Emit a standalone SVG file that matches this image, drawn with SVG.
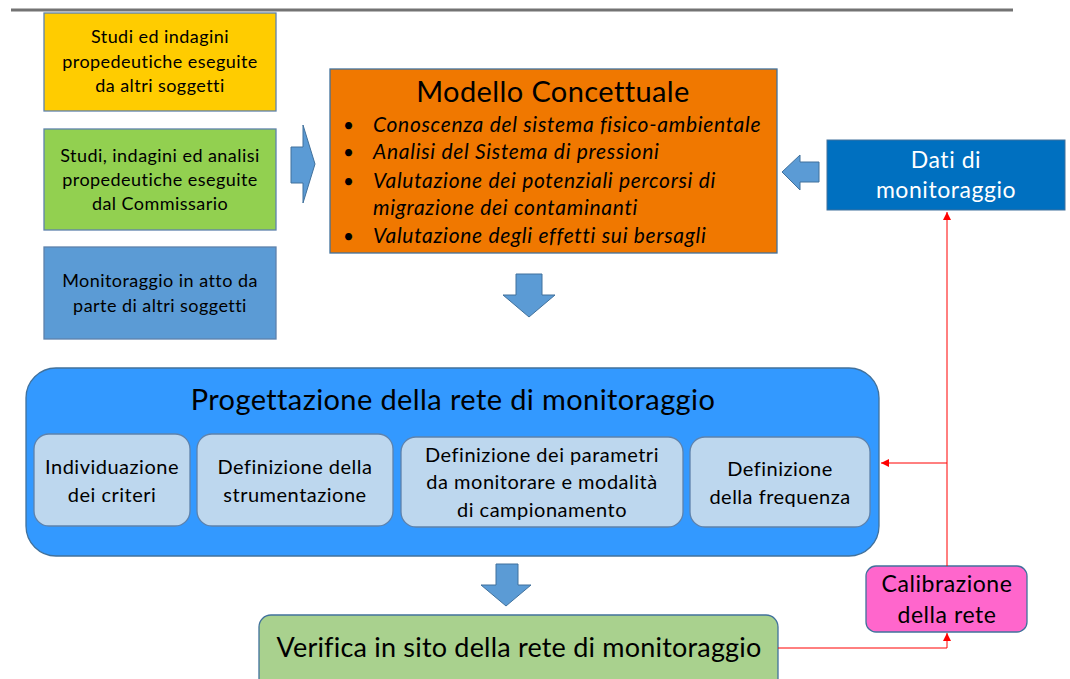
<svg xmlns="http://www.w3.org/2000/svg" width="1070" height="679" viewBox="0 0 1070 679">
<defs>
<style>
text{font-family:Lato,"Open Sans","Liberation Sans",sans-serif;fill:#000;}
.c{text-anchor:middle;}
.s17{font-size:18px;letter-spacing:0.45px;}
.s19{font-size:20px;letter-spacing:0.5px;}
.s22{font-size:23px;letter-spacing:0.55px;}
.s26{font-size:27px;letter-spacing:0.2px;}
.s28{font-size:29px;letter-spacing:0.4px;}
.it{font-style:italic;font-size:21px;letter-spacing:0.7px;}
.bul{font-size:19px;}
.box{stroke:#5E82AC;stroke-width:1.3;}
.inner{fill:#BDD7EE;stroke:#5E82AC;stroke-width:1.3;}
.barrow{fill:#5B9BD5;stroke:#41719C;stroke-width:1;}
.red{fill:none;stroke:#FF0000;stroke-width:1;}
.w{fill:#fff;}
</style>
<marker id="ah" viewBox="0 0 10 10" refX="10" refY="5" markerWidth="8" markerHeight="8" markerUnits="userSpaceOnUse" orient="auto">
<path d="M0,0 L10,5 L0,10 z" fill="#FF0000"/>
</marker>
</defs>
<rect width="1070" height="679" fill="#fff"/>
<line x1="11" y1="10" x2="1013" y2="10" stroke="#737373" stroke-width="3"/>

<g id="n-studi-altri">
<rect class="box" x="44" y="13" width="232" height="98" fill="#FFCC00"/>
<text class="c s17" x="160" y="43">Studi ed indagini</text>
<text class="c s17" x="160" y="68">propedeutiche eseguite</text>
<text class="c s17" x="160" y="92">da altri soggetti</text>
</g>
<g id="n-studi-commissario">
<rect class="box" x="44" y="129" width="232" height="101" fill="#92D050"/>
<text class="c s17" x="160" y="162">Studi, indagini ed analisi</text>
<text class="c s17" x="160" y="186">propedeutiche eseguite</text>
<text class="c s17" x="160" y="210">dal Commissario</text>
</g>
<g id="n-monitoraggio-altri">
<rect class="box" x="44" y="247" width="232" height="92" fill="#5B9BD5"/>
<text class="c s17" x="160" y="287">Monitoraggio in atto da</text>
<text class="c s17" x="160" y="312">parte di altri soggetti</text>
</g>

<g id="n-modello">
<rect x="330" y="69" width="447" height="184" fill="#F07800" stroke="#41719C" stroke-width="1.3"/>
<text class="c s28" x="553" y="102">Modello Concettuale</text>
<text x="343" y="132" class="bul">•</text>
<text x="343" y="159" class="bul">•</text>
<text x="343" y="188" class="bul">•</text>
<text x="343" y="243" class="bul">•</text>
<text class="it" x="373" y="132">Conoscenza del sistema fisico-ambientale</text>
<text class="it" x="373" y="159">Analisi del Sistema di pressioni</text>
<text class="it" x="373" y="188">Valutazione dei potenziali percorsi di</text>
<text class="it" x="373" y="215">migrazione dei contaminanti</text>
<text class="it" x="373" y="243">Valutazione degli effetti sui bersagli</text>
</g>

<g id="n-dati">
<rect x="827" y="140" width="238" height="70" fill="#0070C0" stroke="#41719C" stroke-width="1"/>
<text class="c s22 w" x="946" y="168">Dati di</text>
<text class="c s22 w" x="946" y="198">monitoraggio</text>
</g>

<g id="n-progettazione">
<rect x="26" y="368" width="853" height="188" rx="30" fill="#3399FF" stroke="#41719C" stroke-width="1.3"/>
<text class="c s28" x="453" y="410">Progettazione della rete di monitoraggio</text>
</g>
<g id="n-criteri">
<rect class="inner" x="34" y="434" width="156" height="92" rx="15"/>
<text class="c s19" x="112" y="474">Individuazione</text>
<text class="c s19" x="112" y="502">dei criteri</text>
</g>
<g id="n-strumentazione">
<rect class="inner" x="197" y="434" width="196" height="92" rx="15"/>
<text class="c s19" x="295" y="474">Definizione della</text>
<text class="c s19" x="295" y="502">strumentazione</text>
</g>
<g id="n-parametri">
<rect class="inner" x="401" y="437" width="282" height="90" rx="15"/>
<text class="c s19" x="542" y="462">Definizione dei parametri</text>
<text class="c s19" x="542" y="489">da monitorare e modalità</text>
<text class="c s19" x="542" y="517">di campionamento</text>
</g>
<g id="n-frequenza">
<rect class="inner" x="690" y="437" width="180" height="90" rx="15"/>
<text class="c s19" x="780" y="476">Definizione</text>
<text class="c s19" x="780" y="504">della frequenza</text>
</g>

<g id="n-verifica">
<rect x="259" y="615" width="519" height="80" rx="12" fill="#A9D18E" stroke="#41719C" stroke-width="1.3"/>
<text class="c s26" x="519" y="657">Verifica in sito della rete di monitoraggio</text>
</g>

<g id="n-calibrazione">
<rect x="866" y="566" width="161" height="66" rx="10" fill="#FF66CC" stroke="#41719C" stroke-width="1.3"/>
<text class="c s22" x="947" y="592">Calibrazione</text>
<text class="c s22" x="947" y="623">della rete</text>
</g>

<g id="connectors">
<path class="barrow" d="M291,147 H303 V125 L315,164 L303,203 V183 H291 Z"/>
<path class="barrow" d="M819,162 H800 V155 L782,172 L800,190 V182 H819 Z"/>
<path class="barrow" d="M516,274 H542 V295 H555 L529,317 L503,295 H516 Z"/>
<path class="barrow" d="M496,564 H518 V585 H531 L506,606 L481,585 H496 Z"/>
<path class="red" d="M947,566 V212" marker-end="url(#ah)"/>
<path class="red" d="M947,463 H881" marker-end="url(#ah)"/>
<path class="red" d="M778,648 H947 V633" marker-end="url(#ah)"/>
</g>
</svg>
